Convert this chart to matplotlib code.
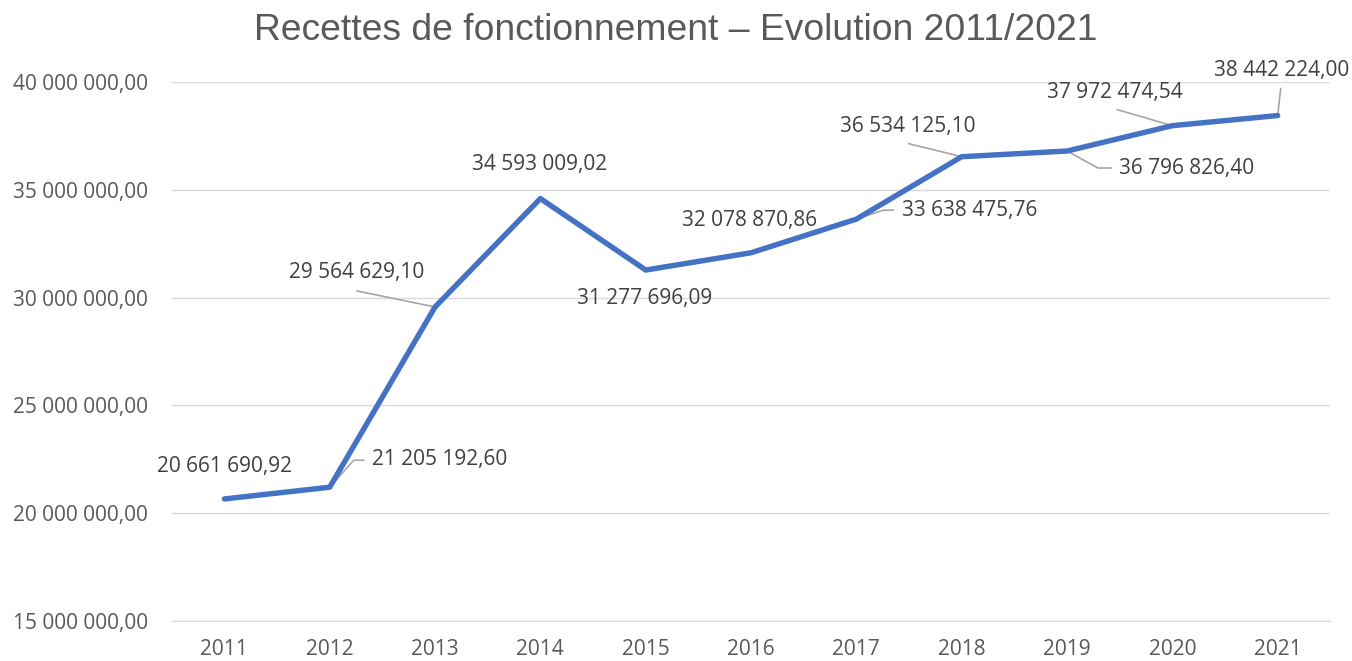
import matplotlib.pyplot as plt
import matplotlib.transforms as mtransforms
from matplotlib.ticker import FuncFormatter

years = ["2011", "2012", "2013", "2014", "2015", "2016",
         "2017", "2018", "2019", "2020", "2021"]
recettes = [20661690.92, 21205192.60, 29564629.10, 34593009.02, 31277696.09,
            32078870.86, 33638475.76, 36534125.10, 36796826.40, 37972474.54,
            38442224.00]

# label placement in pixels relative to the point: (dx, dy, ha), leader polyline
label_pos = [
    (0, 32, "center", None),
    (42, 28, "left", [(0, 0), (24, 27), (34, 27)]),
    (-78, 34, "center", [(0, 0), (-78, 16)]),
    (-1, 34, "center", None),
    (-1, -28, "center", None),
    (-1, 32, "center", None),
    (46, 9, "left", [(0, 0), (27, 9), (37, 9)]),
    (-54, 30, "center", [(0, 0), (-53, 13)]),
    (52, -17, "left", [(0, 0), (31, -17), (44, -17)]),
    (-57, 33, "center", [(0, 0), (-55, 16)]),
    (4, 45, "center", [(0, 0), (3, 27)]),
]


def fr(v, pos=None):
    return f"{v:,.2f}".replace(",", " ").replace(".", ",")


grey = "#595959"
fig = plt.figure(figsize=(13.52, 6.61), dpi=100)
ax = fig.add_axes([0.127, 0.0605, 0.857, 0.8155])

x = list(range(len(years)))
ax.plot(x, recettes, color="#4472C4", lw=3.9, solid_joinstyle="round",
        solid_capstyle="round", zorder=3)

ax.set_xlim(-0.5, len(years) - 0.5)
ax.set_ylim(15e6, 40e6)
ax.set_yticks([15e6, 20e6, 25e6, 30e6, 35e6, 40e6])
ax.yaxis.set_major_formatter(FuncFormatter(fr))
ax.set_xticks(x)
ax.set_xticklabels(years)
ax.grid(axis="y", color="#D9D9D9", lw=1)
ax.set_axisbelow(True)
for s in ["top", "right", "left"]:
    ax.spines[s].set_visible(False)
ax.spines["bottom"].set_color("#D9D9D9")
ax.tick_params(length=0, labelsize=15, labelcolor=grey)
ax.tick_params(axis="x", pad=13)
ax.tick_params(axis="y", pad=17)
for t in ax.get_xticklabels() + ax.get_yticklabels():
    t.set_fontfamily("Open Sans")

fig.canvas.draw()
for xi, v, (dx, dy, ha, leader) in zip(x, recettes, label_pos):
    ax.annotate(fr(v), (xi, v), xytext=(dx, dy), textcoords="offset pixels",
                ha=ha, va="center", fontsize=15, color="#404040",
                fontfamily="Open Sans", zorder=4)
    if leader:
        trans = mtransforms.ScaledTranslation(xi, v, ax.transData)
        lx, ly = zip(*leader)
        ax.plot(lx, ly, transform=trans, color="#A6A6A6", lw=1.2,
                clip_on=False, zorder=2)

fig.text(0.5, 1 - 31 / 661, "Recettes de fonctionnement – Evolution 2011/2021",
         ha="center", va="center", fontsize=26.8, color=grey,
         fontfamily="Liberation Sans")

fig.savefig("out.png", dpi=100)
